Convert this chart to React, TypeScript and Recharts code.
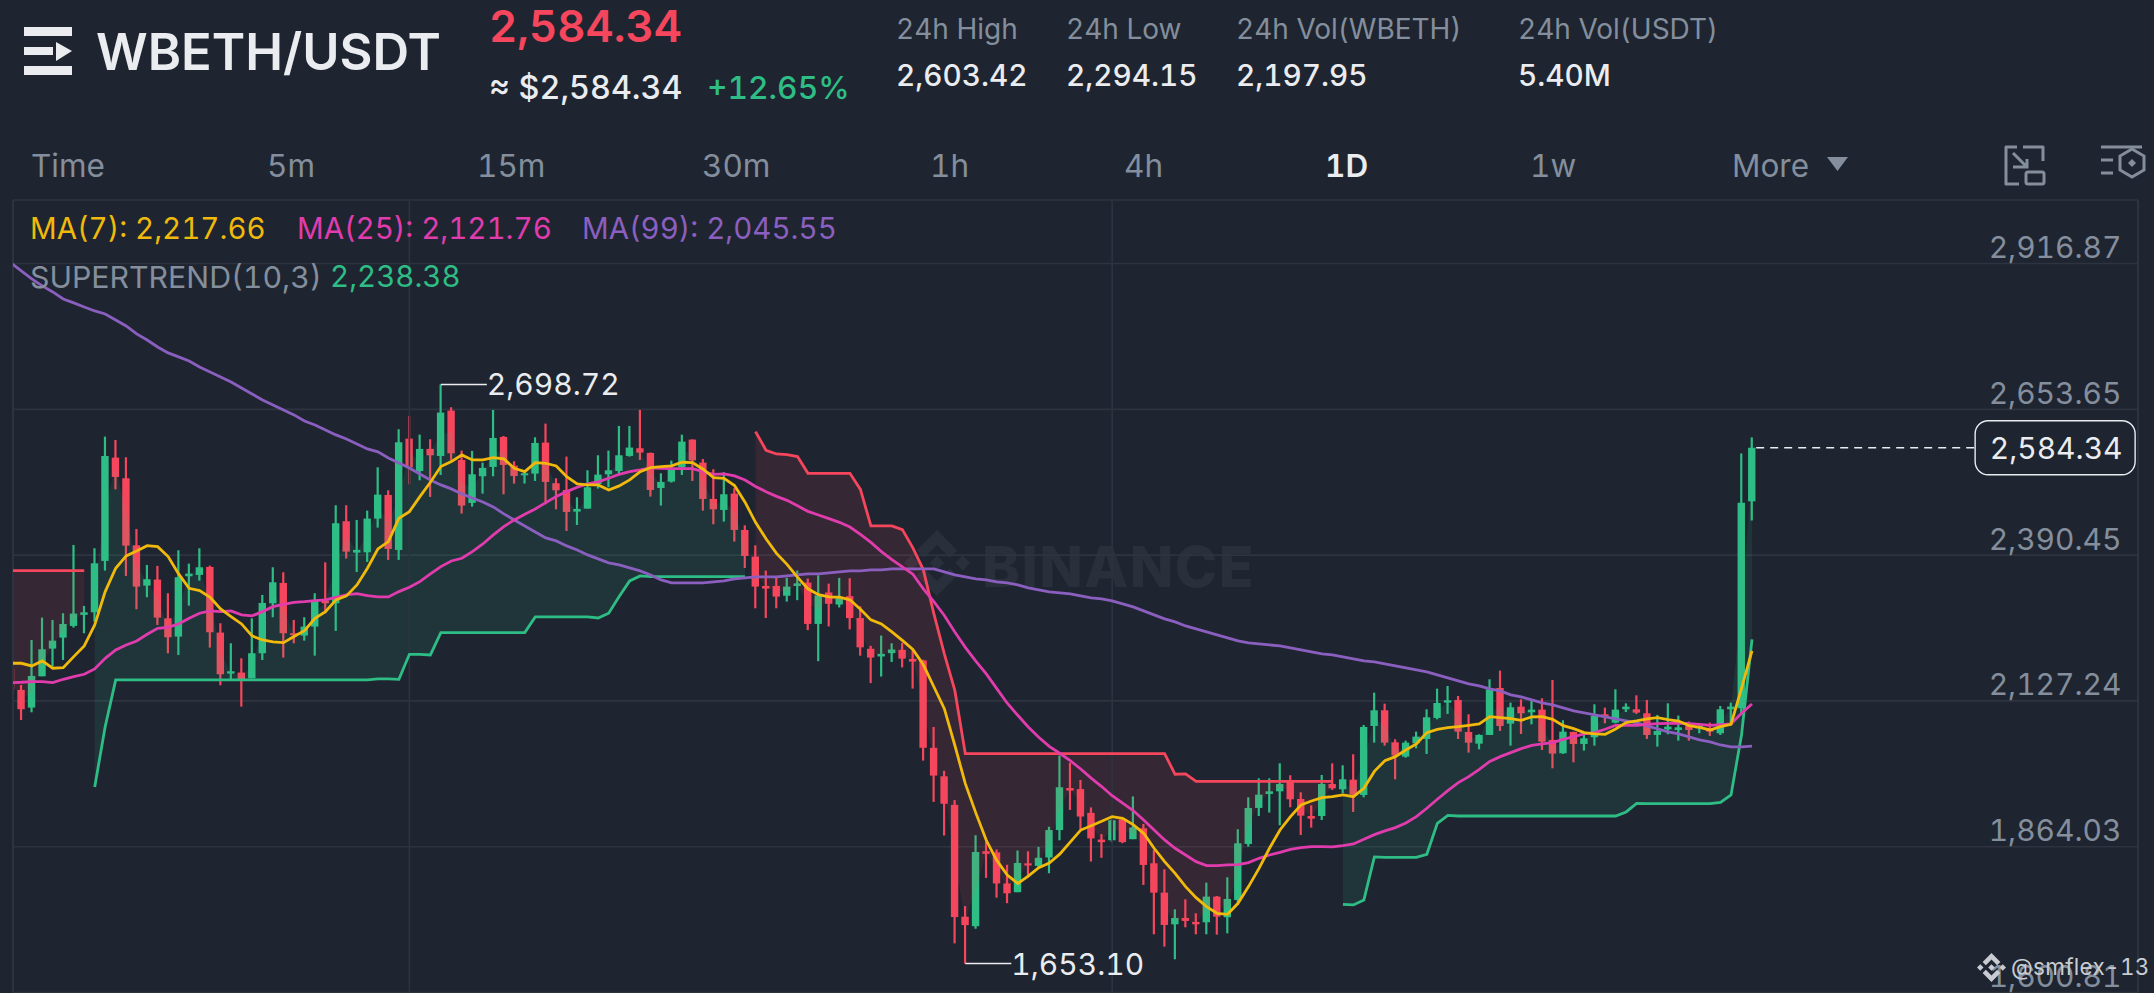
import {
  Area,
  Bar,
  CartesianGrid,
  ComposedChart,
  Line,
  ReferenceDot,
  ReferenceLine,
  XAxis,
  YAxis,
} from "recharts";

const BG = "#1E2530";
const GRID = "#2D3440";
const UP = "#2EBD85";
const DOWN = "#F6465D";
const MUTED = "#848E9C";
const LIGHT = "#EAECEF";
const FONT = "Inter, 'Noto Sans', sans-serif";

const priceTicks = [2916.87, 2653.65, 2390.45, 2127.24, 1864.03, 1600.81];
const gridDays = [37, 104];
const lastPrice = 2584.34;
const highMark = 2698.72;
const lowMark = 1653.1;

// daily candles, first one sits half outside the plot on the left
const candleOpen = [
  2185,
  2147.1, 2115.2, 2171.7, 2221.7, 2241.5, 2262.6, 2282.5, 2287.3, 2380, 2566.5,
  2529.2, 2408.2, 2335.4, 2346.3, 2276.4, 2243.4, 2352.3, 2354.7, 2369.1, 2250.6,
  2176.5, 2178.4, 2168.1, 2213.3, 2303.5, 2340.2, 2249.4, 2245.2, 2261.4, 2308.4,
  2303.5, 2451.6, 2395, 2395.6, 2456.4, 2499.1, 2399.8, 2600.8, 2542.4, 2582.2,
  2569.5, 2651.4, 2562.3, 2484.7, 2532.8, 2549.7, 2603.8, 2552.1, 2534.6, 2537.6,
  2593.6, 2520.2, 2508.1, 2469, 2474.4, 2519, 2536.4, 2542.4, 2569.5, 2583.4,
  2575, 2511.7, 2523.2, 2549, 2599, 2557.5, 2491.9, 2472, 2501.5, 2435.9,
  2387.8, 2334.8, 2334.8, 2317.1, 2334.9, 2340.8, 2266.3, 2323, 2301.3, 2316.4,
  2276.8, 2221.4, 2207.5, 2213.5, 2219.4, 2203, 2200.3, 2042.6, 1991.1, 1939.6,
  1737.7, 1720.5, 1855.8, 1853.8, 1797.7, 1781.9, 1834, 1829.4, 1844.6, 1894.1,
  1970, 1968, 1925.1, 1876.9, 1875.6, 1913.2, 1877.6, 1897.3, 1834.1, 1781.1,
  1723.9, 1735.4, 1728.2, 1727.6, 1773.9, 1736.6, 1767.9, 1869, 1934, 1959.3,
  1964, 1980.9, 1950.2, 1919.5, 1919.5, 1977.3, 1967.7, 1985.1, 1957.4, 2082,
  2110.3, 2052.5, 2026.7, 2050.7, 2058.5, 2096.5, 2124.1, 2129, 2071.2, 2050.1,
  2065.8, 2150.6, 2086.2, 2116.9, 2106.7, 2111.5, 2056.8, 2032.7, 2071.2, 2049.5,
  2061.6, 2103.1, 2088, 2112.1, 2112.1, 2104.9, 2065.8, 2076, 2074.8, 2082,
  2077.8, 2077.8, 2068.8, 2112.1, 2114, 2487.6,
];
const candleClose = [
  2147,
  2112.2, 2172.3, 2220.5, 2236.1, 2266.2, 2284.9, 2287.3, 2375.7, 2569.5, 2531.6,
  2407.6, 2333.6, 2346.9, 2277.6, 2242.2, 2350.5, 2357.1, 2368.5, 2251.2, 2175.4,
  2180.8, 2165.1, 2213.3, 2304.1, 2341.4, 2249.4, 2245.8, 2261.4, 2309.6, 2303.5,
  2448, 2396.8, 2399.8, 2456.4, 2499.7, 2401.6, 2594.2, 2549, 2582.2, 2570.7,
  2647.8, 2574.3, 2479.9, 2536.4, 2547.9, 2602, 2553.3, 2533.4, 2538.2, 2593,
  2522.6, 2507.5, 2468.4, 2473.8, 2512.9, 2535.8, 2543.6, 2570.7, 2584.6, 2575.6,
  2508.1, 2522.6, 2544.2, 2595.4, 2561.7, 2491.9, 2473.2, 2500.3, 2435.9, 2389,
  2333.6, 2330, 2315.6, 2333.6, 2339.5, 2266.3, 2317.7, 2302.6, 2312.5, 2276.8,
  2224, 2205.6, 2212.2, 2220.1, 2203.6, 2198.3, 2042.6, 1992.4, 1941.6, 1737,
  1722.5, 1854.5, 1851.2, 1797.7, 1779.9, 1834.7, 1830.1, 1844, 1894.1, 1971.3,
  1965.4, 1918.5, 1879, 1872.3, 1911.9, 1872.3, 1898.7, 1831.1, 1781.1, 1722.8,
  1735.4, 1730, 1723.9, 1773.9, 1737.8, 1769.7, 1870.2, 1934, 1958, 1964,
  1977.3, 1949.6, 1920.1, 1914.7, 1977.3, 1969.5, 1985.7, 1958, 2080.2, 2110.3,
  2051.9, 2028.5, 2051.9, 2062.8, 2097.7, 2123.5, 2128.4, 2071.8, 2051.9, 2065.8,
  2148.2, 2082, 2115.7, 2104.9, 2111.5, 2053.7, 2032.1, 2071.8, 2049.5, 2059.8,
  2100, 2098.9, 2111.5, 2116.9, 2106.1, 2065.8, 2073, 2080.8, 2079.6, 2074.8,
  2082, 2071.8, 2112.1, 2117, 2485, 2584.34,
];
const candleHigh = [
  2200,
  2156.1, 2237.3, 2277.6, 2273.4, 2285.5, 2408.8, 2298.7, 2402.8, 2604.4, 2598.4,
  2567.1, 2437.7, 2372.7, 2371, 2321.6, 2399.2, 2375.1, 2402.8, 2371.5, 2267.4,
  2231.3, 2204.2, 2276.4, 2318.6, 2368.5, 2359.5, 2273.4, 2278.3, 2321.6, 2377.5,
  2480.5, 2480.5, 2454, 2470.8, 2549, 2507.5, 2617.7, 2641.7, 2608, 2599.6,
  2698.72, 2657.4, 2579.2, 2578.6, 2557.5, 2652.6, 2605.6, 2559.9, 2541.8, 2603.2,
  2627.9, 2529.2, 2568.3, 2494.9, 2543.6, 2570.7, 2579.2, 2623.7, 2623.7, 2652.6,
  2575.6, 2538.2, 2561.1, 2608, 2599.6, 2564.1, 2545.5, 2540, 2511.2, 2444.3,
  2408.2, 2362.5, 2351.7, 2349.4, 2362.6, 2348.1, 2354, 2338.9, 2349.4, 2348.8,
  2298, 2226.7, 2245.2, 2231.3, 2232, 2218.8, 2201.6, 2080.2, 2001, 1948.2,
  1756.8, 1884.8, 1873.6, 1859.1, 1831.4, 1857.1, 1855.8, 1863.7, 1900, 2028.7,
  2015.5, 1984.5, 1935, 1886.8, 1918.5, 1915.2, 1954.8, 1905.1, 1858.2, 1823.2,
  1751, 1769.1, 1743.8, 1799.2, 1775.1, 1808.8, 1895.5, 1953.2, 1987.5, 1987.5,
  2014.6, 1993, 1962.3, 1938.8, 1993.6, 2014.6, 2011, 2030.9, 2083.8, 2142.2,
  2122.3, 2058, 2055.5, 2071.8, 2112.1, 2149.4, 2154.2, 2136.2, 2103.1, 2067,
  2166.3, 2181.9, 2124.2, 2130.2, 2130.2, 2132, 2165.1, 2092.3, 2071.8, 2065.8,
  2121.1, 2115.1, 2148.2, 2122.9, 2137.4, 2129, 2101.9, 2122.9, 2100.7, 2089.9,
  2086.8, 2088, 2118.1, 2124.2, 2574, 2603,
];
const candleLow = [
  2140,
  2092.9, 2106.7, 2171.7, 2189.2, 2201.2, 2259.6, 2249.4, 2270.4, 2362.5, 2509.3,
  2352.9, 2292.7, 2314.4, 2264.4, 2213.3, 2210.2, 2299.3, 2344.4, 2223.5, 2155.5,
  2165.1, 2117, 2168.1, 2201.2, 2278.3, 2205.4, 2231.3, 2236.1, 2209, 2285.5,
  2253.6, 2384.2, 2360.1, 2378.1, 2440.1, 2381.8, 2381.8, 2518.4, 2525.6, 2495.5,
  2535.2, 2562.3, 2465.4, 2478, 2501.5, 2532.8, 2500.3, 2519.6, 2519.6, 2524.4,
  2482.3, 2473.2, 2434.1, 2444.9, 2474.4, 2510.6, 2512.9, 2535.2, 2568.3, 2562.3,
  2496.1, 2479.9, 2521.4, 2535.2, 2524.4, 2470.8, 2446.2, 2451, 2414.9, 2367.3,
  2294.5, 2277, 2294.5, 2306.5, 2309.2, 2255.1, 2199, 2261.7, 2296, 2256.4,
  2208.9, 2159.4, 2171.2, 2197.6, 2187.7, 2149.5, 2019.5, 1944.9, 1884.2, 1689.5,
  1653.1, 1715.9, 1807.6, 1772, 1762.1, 1781.9, 1809.6, 1826.1, 1816.2, 1875.6,
  1930.4, 1895.4, 1837.3, 1844, 1872.3, 1870.3, 1877.6, 1795, 1705.9, 1683.6,
  1660.8, 1718.5, 1705.9, 1705.9, 1705.3, 1707.7, 1758.8, 1864.2, 1919.5, 1925.6,
  1902.7, 1935.2, 1885.2, 1898.5, 1912.3, 1966.5, 1960.5, 1926.8, 1953.2, 2051.9,
  2046.5, 1985.7, 2024.8, 2041.7, 2031.5, 2094.1, 2103.7, 2058.5, 2033.9, 2039.9,
  2065.8, 2073, 2046.5, 2067.6, 2085, 2038.7, 2005.6, 2031.5, 2016.4, 2037.5,
  2046.5, 2086.8, 2086.8, 2107.3, 2103.7, 2058.6, 2044.7, 2067, 2055.5, 2055.5,
  2068.8, 2064, 2065.8, 2083.8, 2104, 2453,
];

const ma7 = [
  2195.2,
  2195.2, 2190.4, 2199.4, 2186.2, 2187.4, 2207.2, 2226.5, 2264.4, 2324.6, 2366.7,
  2389, 2398, 2407.6, 2405.8, 2387.8, 2356.5, 2330.6, 2326.4, 2314.4, 2293.3,
  2279.5, 2266.2, 2244.6, 2237.3, 2233.7, 2232.5, 2243.4, 2254.2, 2276.4, 2288.5,
  2309.6, 2316.8, 2336.6, 2366.7, 2401.6, 2414.9, 2457, 2469, 2496.1, 2522,
  2550.3, 2559.3, 2571.3, 2562.3, 2562.3, 2566.5, 2564.1, 2547.3, 2541.2, 2557.5,
  2556.3, 2551.5, 2532.2, 2519, 2517.2, 2517.2, 2508.1, 2515.4, 2526.2, 2541.2,
  2548.5, 2550.3, 2551.5, 2558.1, 2557.5, 2545.5, 2530.4, 2529.2, 2516, 2486,
  2449.7, 2420, 2393.6, 2373.8, 2350.7, 2329.6, 2319.1, 2315.1, 2314.4, 2309.8,
  2292.7, 2273.5, 2266.3, 2251.8, 2236.6, 2220.1, 2192.4, 2152.8, 2113.2, 2047.2,
  1977.9, 1925.1, 1875.6, 1839.3, 1812.9, 1797.7, 1810.9, 1826.1, 1834.7, 1850.5,
  1872.3, 1894.1, 1902, 1909.9, 1918.4, 1915.2, 1904, 1888.2, 1861.2, 1837.1,
  1816, 1792, 1772.1, 1755.9, 1743.8, 1742, 1761.9, 1792, 1825, 1861.2,
  1894.3, 1918.3, 1939.4, 1946.6, 1952.6, 1954.4, 1957.5, 1954.4, 1969.5, 2000,
  2019.4, 2026.6, 2038.7, 2049.5, 2070, 2076, 2079, 2080.8, 2083.2, 2085.6,
  2098.9, 2097.1, 2095.3, 2092.3, 2098.3, 2098.9, 2094, 2082.6, 2077.2, 2070,
  2067.6, 2067, 2076.6, 2088, 2091, 2094.7, 2097.1, 2093.5, 2091, 2082.6,
  2079.6, 2074.8, 2080.8, 2085, 2150, 2217.66,
];
const ma25 = [
  2160.3,
  2160.9, 2162.1, 2162.1, 2160.3, 2166.3, 2171.1, 2175.3, 2185, 2204.2, 2219.3,
  2228.3, 2235.5, 2247.6, 2258.4, 2260.2, 2266.2, 2276.4, 2285.5, 2289.7, 2288.5,
  2289.7, 2282.5, 2280.7, 2288.5, 2297.5, 2301.7, 2305.3, 2306.5, 2308.3, 2309.5,
  2314.3, 2318.6, 2321, 2317.4, 2315, 2315, 2324.6, 2332.4, 2342.6, 2356.5,
  2369.7, 2379.9, 2384.8, 2396.8, 2410.6, 2426.9, 2441.9, 2454, 2464.2, 2473.8,
  2485.3, 2496.1, 2505.1, 2513, 2519, 2522.6, 2529.2, 2536.4, 2541.2, 2544.2,
  2547.9, 2547.3, 2546.7, 2546.7, 2546.7, 2541.2, 2536.4, 2537, 2533.4, 2526,
  2514.5, 2505, 2496.5, 2489.3, 2479.4, 2469.5, 2462.9, 2456.3, 2449.7, 2441.2,
  2428, 2413.4, 2396.9, 2382.4, 2369.2, 2356, 2329.6, 2306.5, 2281.4, 2251.8,
  2224, 2199, 2175.9, 2149.5, 2123.1, 2101.3, 2080.2, 2061.7, 2045.2, 2032.7,
  2019.5, 2004.3, 1987.8, 1972.6, 1956.1, 1942.6, 1929.4, 1912.3, 1894.3, 1876.2,
  1861.2, 1849.1, 1837.1, 1829.9, 1829.9, 1831.1, 1831.7, 1835.3, 1843.1, 1849.1,
  1853.9, 1859.3, 1862.4, 1864.2, 1864.2, 1863.6, 1866, 1869, 1877.4, 1885.8,
  1892.5, 1898.5, 1907, 1918.3, 1933.4, 1949.6, 1965.3, 1979.7, 1990.5, 2003.8,
  2018, 2026.7, 2033.9, 2041.1, 2047.1, 2049.5, 2051.9, 2057.9, 2062.8, 2067.6,
  2070, 2076, 2083.2, 2083.2, 2083.2, 2085, 2086.2, 2086.8, 2087.4, 2086.2,
  2085, 2083.2, 2084.4, 2085.6, 2104.9, 2121.76,
];
const ma99 = [
  2918,
  2903.5, 2889.1, 2876.5, 2865.6, 2852.9, 2845.8, 2838.5, 2831.3, 2825.9, 2815,
  2804.2, 2789.8, 2778.9, 2766.3, 2755.5, 2748.3, 2741, 2730.2, 2721.2, 2712.2,
  2703.1, 2692.3, 2681.5, 2670.6, 2661.6, 2652.6, 2643.6, 2632.7, 2625.5, 2616.5,
  2607.5, 2600.2, 2591.2, 2582.2, 2576.8, 2565.9, 2556.9, 2547.9, 2537, 2526.2,
  2517.2, 2510, 2501, 2493.7, 2486.5, 2477.5, 2464.9, 2454, 2443.2, 2432.3,
  2421.5, 2416.1, 2407.1, 2399.8, 2390.8, 2383.6, 2376.4, 2372.7, 2367.3, 2361.9,
  2354.7, 2345.7, 2340.3, 2340.3, 2340.3, 2340.3, 2342.1, 2343.9, 2347.5, 2349.3,
  2351.1, 2351.1, 2351.1, 2352.9, 2354.7, 2356.5, 2356.5, 2358.3, 2360.1, 2361.9,
  2361.9, 2363.7, 2363.7, 2365.5, 2365.5, 2365.5, 2365.5, 2365.5, 2360.1, 2354.7,
  2351.1, 2347.5, 2345.7, 2342.1, 2340.3, 2336.7, 2331.2, 2327.6, 2324, 2322.2,
  2320.4, 2316.8, 2313.2, 2311.4, 2307.8, 2302.3, 2296.9, 2289.7, 2282.5, 2275.3,
  2269.8, 2262.6, 2257.2, 2251.8, 2246.4, 2241, 2235.6, 2231.9, 2230.1, 2228.3,
  2226.5, 2222.9, 2219.3, 2215.7, 2212.1, 2210.3, 2206.7, 2203.1, 2199.4, 2197.6,
  2194, 2190.4, 2186.8, 2183.2, 2179.6, 2174.2, 2168.7, 2163.3, 2157.9, 2154.3,
  2148.9, 2145.3, 2138.1, 2134.4, 2129, 2123.6, 2120, 2114.6, 2109.2, 2105.6,
  2102, 2098.4, 2094.7, 2091.1, 2087.5, 2082.1, 2076.7, 2071.2, 2067.6, 2062.2,
  2056.8, 2053.2, 2047.7, 2044.2, 2044.2, 2045.55,
];

const n = null;
const superUp: (number | null)[] = [
  n,
  n, n, n, n, n, n, n, 1971.9, 2080.9, 2165.1,
  2165.1, 2165.1, 2165.1, 2165.1, 2165.1, 2165.1, 2165.1, 2165.1, 2165.1, 2165.1,
  2165.1, 2165.1, 2165.1, 2165.1, 2165.1, 2165.1, 2165.1, 2165.1, 2165.1, 2165.1,
  2165.1, 2165.1, 2165.1, 2165.1, 2167, 2167, 2166.3, 2211.4, 2211.4, 2210.2,
  2250.6, 2250.6, 2250.6, 2250.6, 2250.6, 2250.6, 2250.6, 2250.6, 2250.6, 2278.8,
  2278.8, 2278.8, 2278.8, 2278.8, 2278.8, 2277, 2285.5, 2315.6, 2343.8, 2352.9,
  2351.7, 2351.7, 2351.7, 2351.7, 2351.7, 2351.7, 2351.7, 2351.7, 2351.7, 2351.7,
  n, n, n, n, n, n, n, n, n, n,
  n, n, n, n, n, n, n, n, n, n,
  n, n, n, n, n, n, n, n, n, n,
  n, n, n, n, n, n, n, n, n, n,
  n, n, n, n, n, n, n, n, n, n,
  n, n, n, n, n, n, 1760, 1758.9, 1767.9, 1845.5,
  1844.9, 1844.9, 1844.9, 1844.9, 1850.3, 1906.3, 1920.7, 1919.5, 1919.5, 1919.5,
  1919.5, 1919.5, 1919.5, 1919.5, 1919.5, 1919.5, 1919.5, 1919.5, 1919.5, 1919.5,
  1919.5, 1919.5, 1919.5, 1926.8, 1942.4, 1941.8, 1941.8, 1941.8, 1941.8, 1941.8,
  1941.8, 1941.8, 1944.2, 1957.5, 2065.8, 2238.38,
];
const superDown: (number | null)[] = [
  2362.5,
  2362.5, 2362.5, 2362.5, 2362.5, 2362.5, 2362.5, 2362.5, n, n, n,
  n, n, n, n, n, n, n, n, n, n,
  n, n, n, n, n, n, n, n, n, n,
  n, n, n, n, n, n, n, n, n, n,
  n, n, n, n, n, n, n, n, n, n,
  n, n, n, n, n, n, n, n, n, n,
  n, n, n, n, n, n, n, n, n, n,
  2613.4, 2579.7, 2573.1, 2571.8, 2568.5, 2538.2, 2538.2, 2538.2, 2538.2, 2538.2,
  2509.1, 2443.1, 2443.1, 2443.1, 2436.5, 2403.5, 2363.9, 2284.8, 2212.2, 2146.2,
  2032, 2032, 2032, 2032, 2032, 2032, 2032, 2032, 2032, 2032,
  2032, 2032, 2032, 2032, 2032, 2032, 2032, 2032, 2032, 2032,
  1994.8, 1995.4, 1982.1, 1982.1, 1982.1, 1982.1, 1982.1, 1982.1, 1982.1, 1982.1,
  1982.1, 1982.1, 1982.1, 1982.1, 1982.1, 1982.1, n, n, n, n,
  n, n, n, n, n, n, n, n, n, n,
  n, n, n, n, n, n, n, n, n, n,
  n, n, n, n, n, n, n, n, n, n,
  n, n, n, n, n, n,
];

const chartData = candleOpen.map((open, k) => {
  const close = candleClose[k];
  const mid = (open + close) / 2;
  return {
    day: k - 1,
    open,
    close,
    high: candleHigh[k],
    low: candleLow[k],
    range: [candleLow[k], candleHigh[k]],
    ma7: ma7[k],
    ma25: ma25[k],
    ma99: ma99[k],
    superUp: superUp[k],
    superDown: superDown[k],
    upBand: superUp[k] === null ? null : [superUp[k], mid],
    downBand: superDown[k] === null ? null : [mid, superDown[k]],
  };
});

const topStats = [
  { label: "24h High", value: "2,603.42", left: 896 },
  { label: "24h Low", value: "2,294.15", left: 1066 },
  { label: "24h Vol(WBETH)", value: "2,197.95", left: 1236 },
  { label: "24h Vol(USDT)", value: "5.40M", left: 1518 },
];

const tabs = [
  { label: "Time", left: 31 },
  { label: "5m", left: 267 },
  { label: "15m", left: 477 },
  { label: "30m", left: 702 },
  { label: "1h", left: 930 },
  { label: "4h", left: 1124 },
  { label: "1D", left: 1325, active: true },
  { label: "1w", left: 1530 },
  { label: "More", left: 1732 },
];

const formatPrice = (v: number) =>
  v.toLocaleString("en-US", { minimumFractionDigits: 2, maximumFractionDigits: 2 });

const tabular = { fontVariantNumeric: "tabular-nums" } as const;

function Txt({
  left,
  y,
  size,
  color,
  weight = 400,
  spacing = 0,
  children,
}: {
  left: number;
  y: number;
  size: number;
  color: string;
  weight?: number;
  spacing?: number;
  children: React.ReactNode;
}) {
  return (
    <div
      style={{
        position: "absolute",
        left,
        top: y,
        transform: "translateY(-50%)",
        fontFamily: FONT,
        fontSize: size,
        fontWeight: weight,
        letterSpacing: spacing,
        color,
        lineHeight: 1,
        whiteSpace: "nowrap",
        ...tabular,
      }}
    >
      {children}
    </div>
  );
}

function BinanceMark({ left, top, size, color }: { left: number; top: number; size: number; color: string }) {
  return (
    <svg
      width={size}
      height={size}
      viewBox="0 0 32 32"
      style={{ position: "absolute", left, top }}
      fill={color}
    >
      <path d="M9.8 13.5L16 7.3l6.2 6.2 3.6-3.6L16 0 6.2 9.8l3.6 3.7z" />
      <path d="M0 16l3.6-3.6L7.2 16l-3.6 3.6L0 16z" />
      <path d="M9.8 18.5l6.2 6.2 6.2-6.2 3.6 3.6L16 32l-9.8-9.8 3.6-3.7z" />
      <path d="M24.8 16l3.6-3.6L32 16l-3.6 3.6L24.8 16z" />
      <path d="M19.6 16L16 12.4l-3.6 3.6 3.6 3.6 3.6-3.6z" />
    </svg>
  );
}

function Candle(props: any) {
  const { x, y, width, height, payload } = props;
  const { open, close, high, low } = payload;
  const color = close >= open ? UP : DOWN;
  const perUnit = height / (high - low || 1);
  const top = y + (high - Math.max(open, close)) * perUnit;
  const bodyH = Math.max(Math.abs(open - close) * perUnit, 2);
  const center = x + width / 2;
  return (
    <g>
      <rect x={center - 1.1} y={y} width={2.2} height={height} fill={color} />
      <rect x={center - 3.7} y={top} width={7.4} height={bodyH} fill={color} />
    </g>
  );
}

function PriceTick(props: any) {
  const { y, payload } = props;
  return (
    <text
      x={2121.5}
      y={y - 5.5}
      textAnchor="end"
      fontFamily={FONT}
      fontSize={30}
      fill={MUTED}
      style={tabular}
    >
      {formatPrice(payload.value)}
    </text>
  );
}

function Callout(props: any) {
  const { cx, cy, value } = props;
  return (
    <g>
      <line x1={cx} x2={cx + 46} y1={cy} y2={cy} stroke={LIGHT} strokeWidth={1.5} />
      <text x={cx + 46} y={cy + 11} fontFamily={FONT} fontSize={30} fill={LIGHT} style={tabular}>
        {formatPrice(value)}
      </text>
    </g>
  );
}

function LastPriceBox(props: any) {
  const { cx, cy } = props;
  return (
    <g>
      <rect
        x={cx - 80}
        y={cy - 27}
        width={160}
        height={54}
        rx={13}
        fill={BG}
        stroke={LIGHT}
        strokeWidth={1.4}
      />
      <text
        x={cx + 1}
        y={cy + 11}
        textAnchor="middle"
        fontFamily={FONT}
        fontSize={30}
        fill={LIGHT}
        style={tabular}
      >
        {formatPrice(lastPrice)}
      </text>
    </g>
  );
}

export default function App() {
  return (
    <div
      style={{
        position: "absolute",
        left: 0,
        top: 0,
        width: 2154,
        height: 993,
        overflow: "hidden",
        background: BG,
      }}
    >
      {/* header */}
      <svg width={80} height={80} style={{ position: "absolute", left: 0, top: 0 }} fill={LIGHT}>
        <rect x={24} y={27} width={48} height={9} />
        <rect x={24} y={47} width={29} height={8} />
        <polygon points="56,42 72,51 56,61" />
        <rect x={24} y={66} width={48} height={9} />
      </svg>
      <Txt left={96} y={52} size={50.7} weight={600} color={LIGHT}>WBETH/USDT</Txt>
      <Txt left={489} y={27} size={43.7} weight={600} color={DOWN}>2,584.34</Txt>
      <Txt left={489} y={88} size={32.3} weight={500} color={LIGHT}>≈ $2,584.34</Txt>
      <Txt left={707} y={88} size={31.7} weight={500} color={UP}>+12.65%</Txt>
      {topStats.map((s) => (
        <div key={s.label}>
          <Txt left={s.left} y={29} size={28} color={MUTED}>{s.label}</Txt>
          <Txt left={s.left} y={76} size={29.7} weight={500} color={LIGHT}>{s.value}</Txt>
        </div>
      ))}

      {/* interval tabs */}
      {tabs.map((t) => (
        <Txt
          key={t.label}
          left={t.left}
          y={166}
          size={31.5}
          weight={t.active ? 600 : 400}
          color={t.active ? LIGHT : MUTED}
        >
          {t.label}
        </Txt>
      ))}
      <svg width={24} height={16} style={{ position: "absolute", left: 1826, top: 156 }} fill={MUTED}>
        <polygon points="1,1 22,1 11.5,15" />
      </svg>
      <svg
        width={150}
        height={50}
        style={{ position: "absolute", left: 2000, top: 140 }}
        fill="none"
        stroke={MUTED}
        strokeWidth={3}
      >
        <path d="M17 7H6v37h13M23 7h20v14" strokeLinejoin="round" />
        <path d="M13 13l14 14M27 19v8h-14" />
        <rect x={26} y={32} width={18} height={12} rx={2} />
        <path d="M101 7h41M101 20h12M101 33h12" />
        <polygon points="132,9 144,16 144,30 132,37 120,30 120,16" />
        <polygon points="132,19 136,23 132,27 128,23" fill={MUTED} stroke="none" />
      </svg>

      {/* watermark sits behind the plot */}
      <BinanceMark left={904} top={530} size={66} color="#29303B" />
      <Txt left={982} y={566} size={57} weight={800} spacing={1.5} color="#29303B">BINANCE</Txt>

      <div style={{ position: "absolute", left: 0, top: 0 }}>
        <ComposedChart
          width={2154}
          height={993}
          data={chartData}
          margin={{ top: 200, right: 15, bottom: 0.5, left: 13 }}
        >
          <CartesianGrid vertical={false} stroke={GRID} strokeWidth={1.6} />
          <XAxis
            dataKey="day"
            type="number"
            domain={[-0.79, 201.8]}
            allowDataOverflow
            hide
          />
          <YAxis
            orientation="right"
            domain={[1600.81, 3031.6]}
            ticks={priceTicks}
            interval={0}
            width={1}
            axisLine={false}
            tickLine={false}
            tickSize={0}
            tickMargin={0}
            tick={<PriceTick />}
            allowDataOverflow
          />

          <ReferenceLine x={-0.79} stroke={GRID} strokeWidth={2} />
          <ReferenceLine x={201.8} stroke={GRID} strokeWidth={2} />
          {gridDays.map((d) => (
            <ReferenceLine key={d} x={d} stroke={GRID} strokeWidth={1.6} />
          ))}

          <Bar
            dataKey="range"
            barSize={8}
            shape={<Candle />}
            isAnimationActive={false}
          />

          <Area
            dataKey="upBand"
            type="linear"
            stroke="none"
            fill={UP}
            fillOpacity={0.11}
            zIndex={350}
            isAnimationActive={false}
          />
          <Area
            dataKey="downBand"
            type="linear"
            stroke="none"
            fill={DOWN}
            fillOpacity={0.11}
            zIndex={350}
            isAnimationActive={false}
          />

          <Line dataKey="superUp" type="linear" stroke={UP} strokeWidth={2.8} dot={false} isAnimationActive={false} />
          <Line dataKey="superDown" type="linear" stroke={DOWN} strokeWidth={2.8} dot={false} isAnimationActive={false} />
          <Line dataKey="ma99" type="linear" stroke="#8B5FBF" strokeWidth={2.8} dot={false} isAnimationActive={false} />
          <Line dataKey="ma25" type="linear" stroke="#E13CAD" strokeWidth={2.8} dot={false} isAnimationActive={false} />
          <Line dataKey="ma7" type="linear" stroke="#F0B90B" strokeWidth={2.8} dot={false} isAnimationActive={false} />

          <ReferenceLine
            segment={[
              { x: 165.4, y: lastPrice },
              { x: 186.3, y: lastPrice },
            ]}
            stroke={LIGHT}
            strokeWidth={1.5}
            strokeDasharray="8 6"
          />
          <ReferenceDot x={193.9} y={lastPrice} shape={<LastPriceBox />} />
          <ReferenceDot x={40} y={highMark} shape={(p: any) => <Callout {...p} value={highMark} />} />
          <ReferenceDot x={90} y={lowMark} shape={(p: any) => <Callout {...p} value={lowMark} />} />
        </ComposedChart>
      </div>

      {/* legends drawn over the plot */}
      <Txt left={30} y={229} size={29.5} color="#F0B90B">MA(7): 2,217.66</Txt>
      <Txt left={297} y={229} size={29.5} color="#E13CAD">MA(25): 2,121.76</Txt>
      <Txt left={582} y={229} size={29.5} color="#8B5FBF">MA(99): 2,045.55</Txt>
      <Txt left={30} y={277} size={30.3} color={MUTED}>SUPERTREND(10,3)</Txt>
      <Txt left={330} y={277} size={29.5} color={UP}>2,238.38</Txt>

      <BinanceMark left={1977} top={953} size={29} color="#C8CCD2" />
      <Txt left={2011} y={967} size={22.5} spacing={0.3} color="#C8CCD2">@smflex-13</Txt>
    </div>
  );
}
